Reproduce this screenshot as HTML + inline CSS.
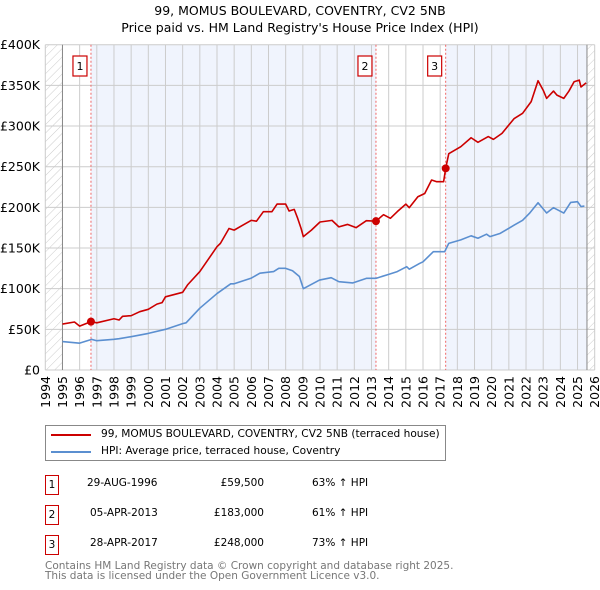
<!DOCTYPE html>
<html><head><meta charset="utf-8"><style>
body{margin:0;background:#fff;font-family:"DejaVu Sans","Liberation Sans",sans-serif;}
#wrap{position:relative;width:600px;height:590px;overflow:hidden}
.t{position:absolute;font-size:10.5px;color:#000;white-space:nowrap}
.box{position:absolute;border:1.3px solid #c00;width:14px;height:20px;text-align:center;font-size:10.5px;line-height:18px;box-sizing:border-box}
</style></head><body><div id="wrap">
<svg id="svg" width="600" height="420" style="position:absolute;left:0;top:0"></svg>
<div style="position:absolute;left:45px;top:425px;width:401px;height:36px;border:1px solid #888;box-sizing:border-box">
 <div><div style="position:absolute;left:5px;top:8px;width:40px;height:2px;background:#c00"></div><div class="t" style="left:55px;top:2px;font-size:10.6px">99, MOMUS BOULEVARD, COVENTRY, CV2 5NB (terraced house)</div></div>
 <div><div style="position:absolute;left:5px;top:25px;width:40px;height:2px;background:#5b8fd0"></div><div class="t" style="left:55px;top:19px;font-size:10.6px">HPI: Average price, terraced house, Coventry</div></div>
</div>
<div>
 <div class="box" style="left:45px;top:475px">1</div>
 <div class="t" style="left:87px;top:477px">29-AUG-1996</div>
 <div class="t" style="left:164px;top:477px;width:100px;text-align:right">£59,500</div>
 <div class="t" style="left:312px;top:477px">63% ↑ HPI</div>
 <div class="box" style="left:45px;top:505px">2</div>
 <div class="t" style="left:90px;top:507px">05-APR-2013</div>
 <div class="t" style="left:164px;top:507px;width:100px;text-align:right">£183,000</div>
 <div class="t" style="left:312px;top:507px">61% ↑ HPI</div>
 <div class="box" style="left:45px;top:535px">3</div>
 <div class="t" style="left:90px;top:537px">28-APR-2017</div>
 <div class="t" style="left:164px;top:537px;width:100px;text-align:right">£248,000</div>
 <div class="t" style="left:312px;top:537px">73% ↑ HPI</div>
</div>
<div class="t" style="left:45px;top:561px;color:#777;font-size:10.5px;line-height:10px">Contains HM Land Registry data © Crown copyright and database right 2025.<br>This data is licensed under the Open Government Licence v3.0.</div>
</div>
<script>
const hpiYears=[1995,1996,1996.7,1997,1998,1998.3,1999,2000,2001,2002,2002.2,2003,2004,2004.8,2005,2006,2006.5,2007.3,2007.6,2008,2008.4,2008.8,2009.03,2009.97,2010.65,2011.1,2011.9,2012.7,2013.26,2014,2014.5,2015.05,2015.2,2015.8,2016,2016.6,2017.26,2017.5,2018.2,2018.8,2019.2,2019.7,2019.9,2020.5,2021.3,2021.8,2022.2,2022.7,2023.2,2023.6,2024.2,2024.6,2025.0,2025.2,2025.4];
const hpiValues=[35,33,37.7,36,37.7,38.5,41,45,50,57,58,76,94,106,106,113,119,121,125,125,122,115,100,110.6,113.5,108.6,107,112.7,112.7,117.6,121,127,124,131,133,145.5,145.5,155.7,160,165,162,167,164,168,178,184,192.6,205.7,193,199.6,193,206,207,201,201.6];
const priceYears=[1995,1995.7,1996,1996.66,1997,1998,1998.3,1998.5,1999,1999.5,2000,2000.5,2000.8,2001,2002,2002.3,2003,2004,2004.2,2004.7,2005,2005.5,2006,2006.3,2006.7,2007.2,2007.5,2008,2008.2,2008.5,2008.7,2008.9,2009.03,2009.5,2010,2010.7,2011.1,2011.6,2012.1,2012.7,2013.26,2013.7,2014.1,2014.5,2015,2015.2,2015.7,2016.1,2016.5,2016.8,2017.2,2017.32,2017.5,2018.2,2018.8,2019.2,2019.8,2020.1,2020.6,2021.3,2021.8,2022.3,2022.7,2023.0,2023.2,2023.6,2023.8,2024.2,2024.5,2024.8,2025.1,2025.2,2025.5];
const priceValues=[56.5,59,54,59.5,58,63,61.5,66,66.8,71.7,74.6,81,82.8,90,95.5,105,121,151.6,155.7,174,172,178,184,183,194.7,194.7,204,204,195.5,197.5,186.5,174,164,172,182,184,176,179,175,183.6,183,191,186.5,194.7,204,199.6,213,217,233.6,231.5,231.5,248,266,274.6,285.6,280,287,283.6,291,309,315.6,330,355.7,344,334,343,338,334,343,354.5,356.5,348,353];
const saleYears=[1996.66,2013.26,2017.32];
const saleValues=[59.5,183,248];
const saleLabels=["1","2","3"];
const yTicks=[0,50,100,150,200,250,300,350,400];
const yTickLabels=["£0","£50K","£100K","£150K","£200K","£250K","£300K","£350K","£400K"];
const xTicks=[1994,1995,1996,1997,1998,1999,2000,2001,2002,2003,2004,2005,2006,2007,2008,2009,2010,2011,2012,2013,2014,2015,2016,2017,2018,2019,2020,2021,2022,2023,2024,2025,2026];
const dataStart=1995, dataEnd=2025.55;

const X0=45.3,X1=594.7,Y0=370,Y1=44.7;
const xs=y=>X0+(y-1994)/32*(X1-X0);
const ys=v=>Y0-v/400*(Y0-Y1);
const svg=document.getElementById('svg');
const NS='http://www.w3.org/2000/svg';
function mk(tag,attrs,parent){const e=document.createElementNS(NS,tag);for(const k in attrs)e.setAttribute(k,attrs[k]);(parent||svg).appendChild(e);return e;}
const defs=mk('defs',{});
const pat=mk('pattern',{id:'hatch',width:6,height:6,patternUnits:'userSpaceOnUse',patternTransform:'rotate(45)'},defs);
mk('line',{x1:0,y1:0,x2:0,y2:6,stroke:'#ccc','stroke-width':1},pat);
let e;
e=mk('rect',{x:X0,y:Y1,width:xs(dataStart)-X0,height:Y0-Y1,fill:'url(#hatch)'});

e=mk('rect',{x:xs(dataEnd),y:Y1,width:X1-xs(dataEnd),height:Y0-Y1,fill:'url(#hatch)'});

const bands=[[saleYears[0],saleYears[1]],[saleYears[2],dataEnd]];
bands.forEach(b=>{e=mk('rect',{x:xs(b[0]),y:Y1,width:xs(b[1])-xs(b[0]),height:Y0-Y1,fill:'#f0f4fd'});
});
xTicks.forEach(t=>{e=mk('line',{x1:xs(t),x2:xs(t),y1:Y1,y2:Y0,stroke:'#ccc','stroke-width':1});

e=mk('text',{x:0,y:0,transform:`translate(${xs(t)+4.5},376) rotate(-90)`,'text-anchor':'end','font-size':'12.5','font-family':'DejaVu Sans,sans-serif'});
e.textContent=t;});
yTicks.forEach((t,i)=>{e=mk('line',{x1:X0,x2:X1,y1:ys(t),y2:ys(t),stroke:'#ccc','stroke-width':1});

e=mk('text',{x:40,y:ys(t)+4.5,'text-anchor':'end','font-size':'12.5','font-family':'DejaVu Sans,sans-serif'});
e.textContent=yTickLabels[i];});
e=mk('line',{x1:xs(dataStart),x2:xs(dataStart),y1:Y1,y2:Y0,stroke:'#888'});

e=mk('line',{x1:xs(dataEnd),x2:xs(dataEnd),y1:Y1,y2:Y0,stroke:'#888'});

saleYears.forEach((s,i)=>{e=mk('line',{x1:xs(s),x2:xs(s),y1:Y1,y2:Y0,stroke:'#e66','stroke-dasharray':'2,2','stroke-width':1});

const g=mk('g',{});
mk('rect',{x:xs(s)-18,y:56,width:14,height:20,fill:'#fff',stroke:'#c00','stroke-width':1.2},g);
const tx=mk('text',{x:xs(s)-11,y:70,'text-anchor':'middle','font-size':'11','font-family':'DejaVu Sans,sans-serif'},g);tx.textContent=saleLabels[i];});
function path(xa,va,col,name){e=mk('polyline',{points:xa.map((x,i)=>xs(x)+','+ys(va[i])).join(' '),fill:'none',stroke:col,'stroke-width':1.6,'stroke-linejoin':'round'});
}
path(hpiYears,hpiValues,'#5b8fd0','hpi-line');
path(priceYears,priceValues,'#c00','price-paid-line');
saleYears.forEach((s,i)=>{e=mk('circle',{cx:xs(s),cy:ys(saleValues[i]),r:4,fill:'#c00'});
});
e=mk('text',{x:300,y:15,'text-anchor':'middle','font-size':'12.5','font-family':'DejaVu Sans,sans-serif'});
e.textContent='99, MOMUS BOULEVARD, COVENTRY, CV2 5NB';
e=mk('text',{x:300,y:32,'text-anchor':'middle','font-size':'12.5','font-family':'DejaVu Sans,sans-serif'});
e.textContent="Price paid vs. HM Land Registry's House Price Index (HPI)";
</script></body></html>
